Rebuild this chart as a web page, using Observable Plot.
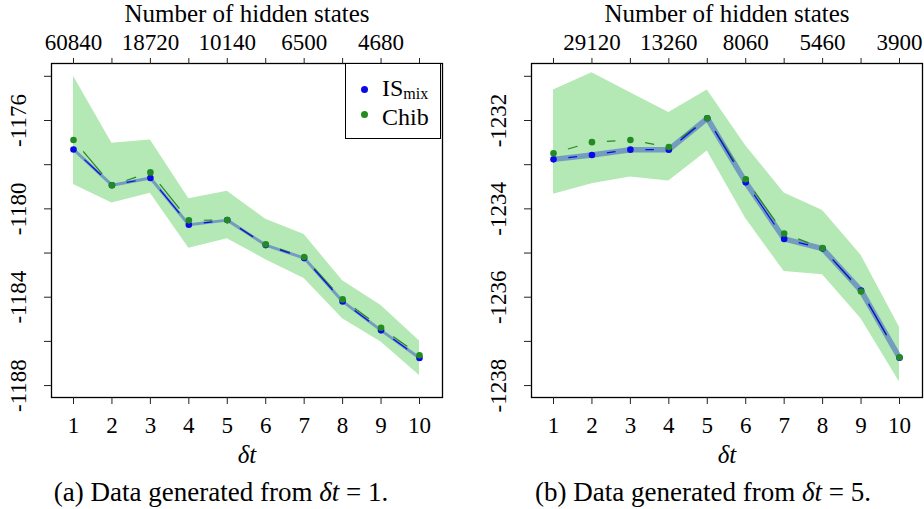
<!DOCTYPE html>
<html>
<head>
<meta charset="utf-8">
<script src="https://cdn.jsdelivr.net/npm/d3@7"></script>
<script src="https://cdn.jsdelivr.net/npm/@observablehq/plot@0.6"></script>
<style>
  html, body { margin: 0; padding: 0; background: #fff; }
  #fig { position: relative; width: 924px; height: 509px; overflow: hidden; font-family: "Liberation Serif", "Times New Roman", Times, "DejaVu Serif", serif; color: #000; }
  .panel { position: absolute; top: 0; }
  .caption { position: absolute; font-size: 27px; white-space: nowrap; transform: translateX(-50%); line-height: 1; }
  .legend { position: absolute; left: 345px; top: 63px; width: 96px; height: 76px; border: 1.2px solid #000; background: #fff; box-sizing: border-box; font-size: 24px; }
  .legend .item { position: absolute; left: 36px; line-height: 1; white-space: nowrap; }
  .legend .dot { position: absolute; width: 7px; height: 7px; border-radius: 50%; }
  .legend sub { font-size: 16px; vertical-align: -3px; line-height: 1; }
</style>
</head>
<body>
<div id="fig"></div>
<script>
// ---- data ----
const dt = [1, 2, 3, 4, 5, 6, 7, 8, 9, 10];

// Panel (a): data generated from δt = 1
const aIS      = [-1177.31, -1178.93, -1178.60, -1180.72, -1180.51, -1181.64, -1182.23, -1184.19, -1185.50, -1186.75];
const aChib    = [-1176.88, -1178.93, -1178.35, -1180.52, -1180.51, -1181.61, -1182.18, -1184.10, -1185.38, -1186.63];
const aChibHi  = [-1174.00, -1177.03, -1176.88, -1179.54, -1179.20, -1180.47, -1181.16, -1183.26, -1184.37, -1185.98];
const aChibLo  = [-1178.90, -1179.74, -1179.29, -1181.78, -1181.35, -1182.30, -1183.15, -1184.97, -1186.03, -1187.54];
const aTopLabels = ["60840", "", "18720", "", "10140", "", "6500", "", "4680", ""];
const aYTicks  = [-1188, -1186, -1184, -1182, -1180, -1178, -1176, -1174];
const aYLabels = [-1188, -1184, -1180, -1176];

// Panel (b): data generated from δt = 5
const bIS      = [-1232.88, -1232.78, -1232.66, -1232.66, -1231.95, -1233.40, -1234.68, -1234.90, -1235.85, -1237.37];
const bChib    = [-1232.74, -1232.49, -1232.44, -1232.60, -1231.95, -1233.33, -1234.56, -1234.89, -1235.87, -1237.36];
const bChibHi  = [-1231.31, -1230.92, -1231.37, -1231.82, -1231.31, -1232.57, -1233.64, -1234.04, -1235.05, -1236.68];
const bChibLo  = [-1233.67, -1233.43, -1233.28, -1233.37, -1232.69, -1234.22, -1235.42, -1235.49, -1236.49, -1237.92];
const bTopLabels = ["", "29120", "", "13260", "", "8060", "", "5460", "", "3900"];
const bYTicks  = [-1238, -1237, -1236, -1235, -1234, -1233, -1232, -1231];
const bYLabels = [-1238, -1236, -1234, -1232];

const FONT = `"Liberation Serif", "Times New Roman", Times, "DejaVu Serif", serif`;
const BAND = "#b4e8b4";
const ISBAND = "#5a7fc4";
const BLUE = "#0a0ae6";
const GREEN = "#228b22";

function segments(vals) {
  const out = [];
  for (let i = 0; i < vals.length - 1; i++) out.push({x1: dt[i], y1: vals[i], x2: dt[i + 1], y2: vals[i + 1]});
  return out;
}

function panel({is, chib, lo, hi, topLabels, yTicks, yLabels, yDomain, marginLeft, marginRight, bandWidth}) {
  const rows = dt.map((d, i) => ({dt: d, is: is[i], chib: chib[i], lo: lo[i], hi: hi[i], top: topLabels[i]}));
  return Plot.plot({
    width: 462,
    height: 509,
    marginTop: 63,
    marginBottom: 112,
    marginLeft,
    marginRight,
    style: {fontFamily: FONT, fontSize: "23px", background: "transparent", overflow: "visible"},
    x: {type: "linear", domain: [1, 10], insetLeft: 22, insetRight: 23},
    y: {domain: yDomain},
    marks: [
      Plot.areaY(rows, {x: "dt", y1: "lo", y2: "hi", fill: BAND}),
      Plot.line(rows, {x: "dt", y: "is", stroke: ISBAND, strokeOpacity: 0.72, strokeWidth: bandWidth}),
      Plot.link(segments(chib), {x1: "x1", y1: "y1", x2: "x2", y2: "y2", stroke: GREEN, strokeWidth: 1.2, className: "dseg"}),
      Plot.link(segments(is), {x1: "x1", y1: "y1", x2: "x2", y2: "y2", stroke: BLUE, strokeWidth: 1.2, className: "dseg"}),
      Plot.dot(rows, {x: "dt", y: "is", r: 3.3, fill: BLUE}),
      Plot.dot(rows, {x: "dt", y: "chib", r: 3.3, fill: GREEN}),
      Plot.frame({stroke: "#000", strokeWidth: 1.3}),
      Plot.axisX(dt, {anchor: "bottom", tickSize: 7, tickFormat: () => "", label: null, stroke: "#222"}),
      Plot.axisX(dt, {anchor: "top", tickSize: 6, tickFormat: () => "", label: null, stroke: "#222"}),
      Plot.axisY(yTicks, {anchor: "left", tickSize: 7, tickFormat: () => "", label: null, stroke: "#222"}),
      Plot.text(dt, {x: d => d, text: d => String(d), frameAnchor: "bottom", dy: 28, fontSize: 23, lineAnchor: "middle"}),
      Plot.text(rows, {x: "dt", text: "top", frameAnchor: "top", dy: -21, fontSize: 23, lineAnchor: "middle"}),
      Plot.text(yLabels, {y: d => d, text: d => String(d), frameAnchor: "left", dx: -33, rotate: -90, fontSize: 23, textAnchor: "middle", lineAnchor: "middle"}),
      Plot.text(["Number of hidden states"], {text: d => d, frameAnchor: "top", dy: -50, fontSize: 25, lineAnchor: "middle"}),
      Plot.text(["δt"], {text: d => d, frameAnchor: "bottom", dy: 57, fontSize: 25, fontStyle: "italic", lineAnchor: "middle"})
    ]
  });
}

const fig = document.getElementById("fig");

const a = panel({is: aIS, chib: aChib, lo: aChibLo, hi: aChibHi, topLabels: aTopLabels, yTicks: aYTicks, yLabels: aYLabels,
  yDomain: [-1188.54, -1173.42], marginLeft: 51, marginRight: 20, bandWidth: 3});
a.classList.add("panel"); a.style.left = "0px";
fig.appendChild(a);

const b = panel({is: bIS, chib: bChib, lo: bChibLo, hi: bChibHi, topLabels: bTopLabels, yTicks: bYTicks, yLabels: bYLabels,
  yDomain: [-1238.27, -1230.71], marginLeft: 69, marginRight: 2, bandWidth: 5.5});
b.classList.add("panel"); b.style.left = "462px";
fig.appendChild(b);

// dashed connecting segments with gaps around the points (type "b" style)
document.querySelectorAll("g.dseg path, g.dseg line").forEach(p => {
  const L = p.getTotalLength();
  const d = Math.max(0, Math.min(36, L - 30));
  p.setAttribute("stroke-dasharray", `0 15 ${d} ${L + 50}`);
});

// legend (panel a)
const lg = document.createElement("div");
lg.className = "legend";
lg.innerHTML =
  `<span class="dot" style="left:15px;top:22px;background:${BLUE}"></span>` +
  `<span class="item" style="top:12px">IS<sub>mix</sub></span>` +
  `<span class="dot" style="left:15px;top:47px;background:${GREEN}"></span>` +
  `<span class="item" style="top:41px">Chib</span>`;
fig.appendChild(lg);

// captions
const capA = document.createElement("div");
capA.className = "caption";
capA.style.left = "221px"; capA.style.top = "479px";
capA.innerHTML = `(a) Data generated from <i>δt</i> = 1.`;
fig.appendChild(capA);

const capB = document.createElement("div");
capB.className = "caption";
capB.style.left = "703px"; capB.style.top = "479px";
capB.innerHTML = `(b) Data generated from <i>δt</i> = 5.`;
fig.appendChild(capB);
</script>
</body>
</html>
